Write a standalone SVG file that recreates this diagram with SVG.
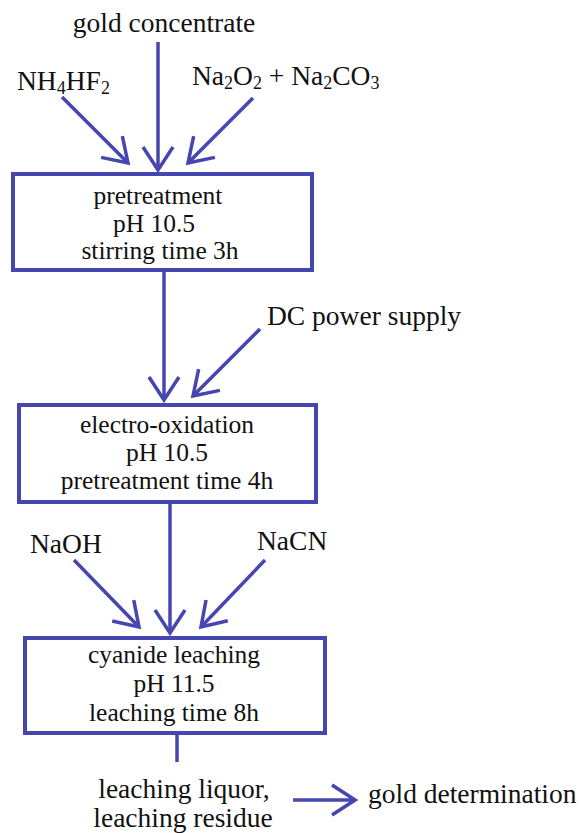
<svg xmlns="http://www.w3.org/2000/svg" width="581" height="833" viewBox="0 0 581 833">
<style>
.t{font-family:"Liberation Serif","Times New Roman",serif;font-size:27.5px;fill:#111;}
.b{font-size:25.5px;}
.c{text-anchor:middle;}
.sub{font-size:18px;}
.box{fill:none;stroke:#4646b0;stroke-width:4;}
.ln{stroke:#4646b0;stroke-width:3.5;fill:none;}
.arr{marker-end:url(#ah);}
</style>
<defs>
<marker id="ah" markerUnits="userSpaceOnUse" viewBox="0 0 28 34" refX="25" refY="17" markerWidth="28" markerHeight="34" orient="auto">
<path d="M2,2 L25,17 L2,32" fill="none" stroke="#4646b0" stroke-width="3.5" stroke-linejoin="miter"/>
</marker>
</defs>
<rect width="581" height="833" fill="#fff"/>
<g id="connectors">
<line class="ln arr" x1="158" y1="42" x2="158" y2="170"/>
<line class="ln arr" x1="62" y1="97" x2="128" y2="163"/>
<line class="ln arr" x1="253" y1="98" x2="188" y2="163"/>
<line class="ln arr" x1="164" y1="272" x2="164" y2="400"/>
<line class="ln arr" x1="260" y1="329" x2="193" y2="396"/>
<line class="ln arr" x1="170" y1="504" x2="170" y2="633"/>
<line class="ln arr" x1="74" y1="560" x2="139" y2="627"/>
<line class="ln arr" x1="265" y1="560" x2="201" y2="627"/>
<line class="ln" x1="177" y1="735" x2="177" y2="762"/>
<line class="ln arr" x1="293" y1="800" x2="355" y2="800"/>
</g>
<g id="gold-concentrate"><text class="t c" x="164" y="32">gold concentrate</text></g>
<g id="nh4hf2"><text class="t" x="17" y="90">NH<tspan class="sub" dy="4">4</tspan><tspan dy="-4">HF</tspan><tspan class="sub" dy="4">2</tspan></text></g>
<g id="na2o2-na2co3"><text class="t" x="192" y="85">Na<tspan class="sub" dy="4">2</tspan><tspan dy="-4">O</tspan><tspan class="sub" dy="4">2</tspan><tspan dy="-4"> + Na</tspan><tspan class="sub" dy="4">2</tspan><tspan dy="-4">CO</tspan><tspan class="sub" dy="4">3</tspan></text></g>
<g id="pretreatment">
<rect class="box" x="13" y="174" width="299" height="96"/>
<text class="t b c" x="158" y="204">pretreatment</text>
<text class="t b c" x="154" y="232">pH 10.5</text>
<text class="t b c" x="160" y="259">stirring time 3h</text>
</g>
<g id="dc-power"><text class="t" x="267" y="325">DC power supply</text></g>
<g id="electro-oxidation">
<rect class="box" x="19" y="405" width="297" height="97"/>
<text class="t b c" x="167" y="433">electro-oxidation</text>
<text class="t b c" x="167" y="461">pH 10.5</text>
<text class="t b c" x="167" y="489">pretreatment time 4h</text>
</g>
<g id="naoh"><text class="t" x="30" y="553">NaOH</text></g>
<g id="nacn"><text class="t" x="257" y="550">NaCN</text></g>
<g id="cyanide-leaching">
<rect class="box" x="25" y="638" width="300" height="95"/>
<text class="t b c" x="174" y="663">cyanide leaching</text>
<text class="t b c" x="174" y="692">pH 11.5</text>
<text class="t b c" x="174" y="721">leaching time 8h</text>
</g>
<g id="leaching-products">
<text class="t c" x="184" y="798">leaching liquor,</text>
<text class="t c" x="183" y="827">leaching residue</text>
</g>
<g id="gold-determination"><text class="t" x="368" y="803">gold determination</text></g>
</svg>
